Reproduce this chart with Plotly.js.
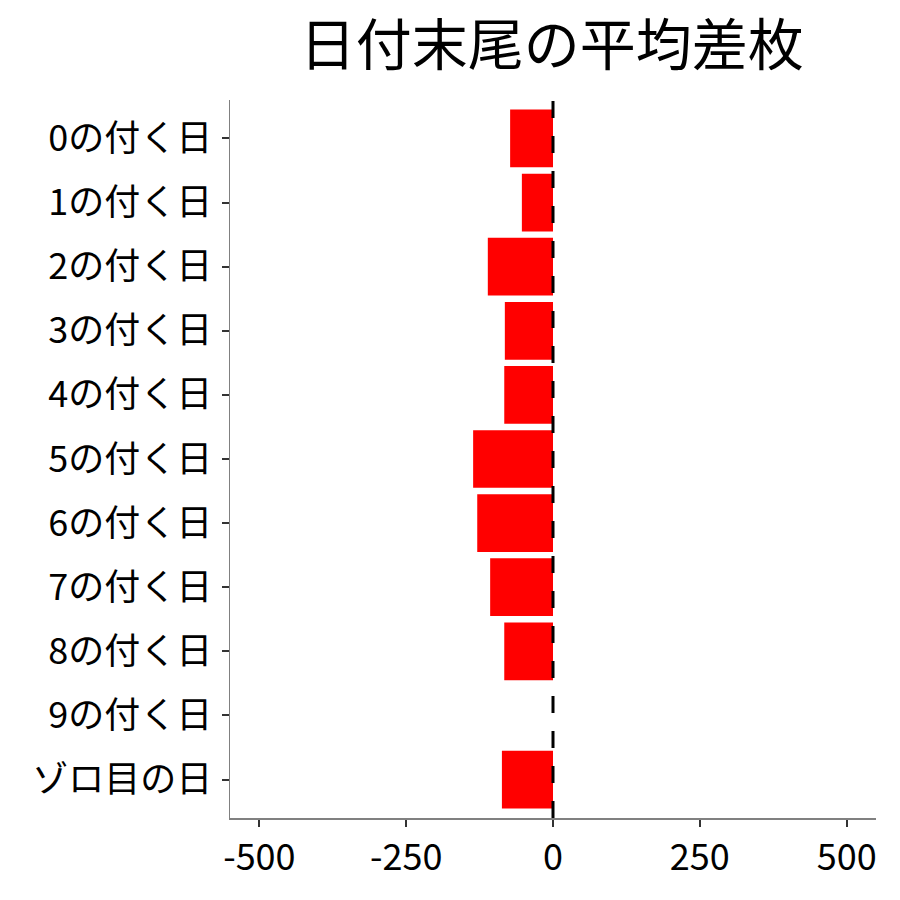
<!DOCTYPE html>
<html>
<head>
<meta charset="utf-8">
<script src="https://cdn.plot.ly/plotly-3.0.1.min.js"></script>
<style>
  html, body { margin: 0; padding: 0; background: #fff; }
  #chart { width: 900px; height: 900px; }
</style>
</head>
<body>
<div id="chart"></div>
<script>
const categories = ["0の付く日", "1の付く日", "2の付く日", "3の付く日", "4の付く日",
    "5の付く日", "6の付く日", "7の付く日", "8の付く日", "9の付く日", "ゾロ目の日"];
const mean_diff = [-73, -53, -111, -82, -83, -136, -129, -107, -83, 0, -87];
const x_ticks = [-500, -250, 0, 250, 500];

const font_family = '"Noto Sans CJK JP", "Noto Sans", sans-serif';

const trace = {
    type: 'bar',
    orientation: 'h',
    x: mean_diff,
    y: categories,
    width: 0.9,
    marker: {color: '#ff0000', line: {width: 0}},
    hoverinfo: 'x+y'
};

const layout = {
    width: 900,
    height: 900,
    margin: {l: 230, r: 24, t: 100, b: 82},
    paper_bgcolor: '#ffffff',
    plot_bgcolor: '#ffffff',
    showlegend: false,
    font: {family: font_family, color: '#000000', size: 36},
    title: {
        text: '日付末尾の平均差枚',
        font: {family: font_family, size: 56, color: '#000000'},
        x: 0.613, xanchor: 'center',
        y: 0.95, yanchor: 'middle'
    },
    xaxis: {
        range: [-550, 550],
        tickvals: x_ticks,
        ticktext: x_ticks.map(String),
        showgrid: false,
        zeroline: false,
        showline: true,
        linecolor: '#808080',
        linewidth: 1.5,
        ticks: 'outside',
        ticklen: 7,
        tickwidth: 2,
        tickcolor: '#333333',
        tickfont: {family: font_family, size: 36, color: '#000000'}
    },
    yaxis: {
        type: 'category',
        categoryorder: 'array',
        categoryarray: categories,
        range: [10.6, -0.6],
        showgrid: false,
        zeroline: false,
        showline: true,
        linecolor: '#808080',
        linewidth: 1.5,
        ticks: 'outside',
        ticklen: 7,
        tickwidth: 2,
        tickcolor: '#333333',
        ticklabelstandoff: 2,
        tickfont: {family: font_family, size: 36, color: '#000000'}
    },
    shapes: [{
        type: 'line',
        xref: 'x', yref: 'paper',
        x0: 0, x1: 0, y0: 0, y1: 1,
        line: {color: '#000000', width: 3, dash: '17px,18px'},
        layer: 'above'
    }]
};

Plotly.newPlot('chart', [trace], layout, {displayModeBar: false, staticPlot: true});
</script>
</body>
</html>
